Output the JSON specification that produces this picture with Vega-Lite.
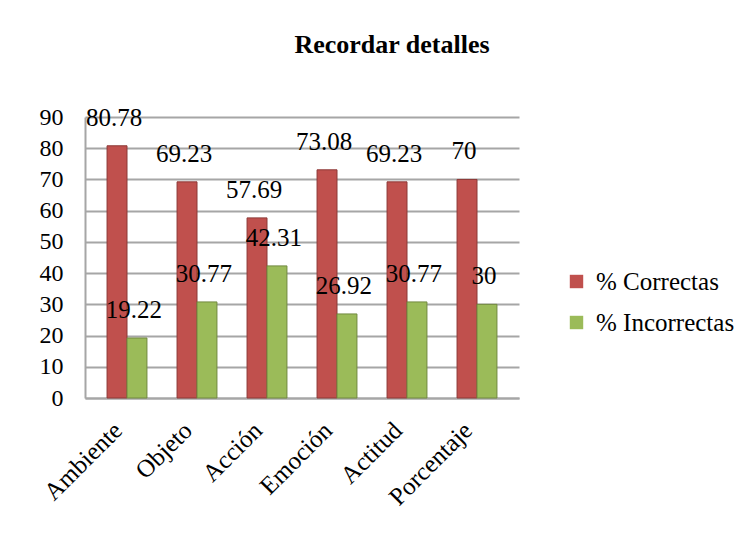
{
  "$schema": "https://vega.github.io/schema/vega-lite/v6.json",
  "autosize": "none",
  "width": 434,
  "height": 281,
  "padding": {"left": 85, "top": 117, "right": 233, "bottom": 135},
  "background": "white",
  "title": {
    "text": "Recordar detalles",
    "font": "Liberation Serif",
    "fontSize": 26,
    "fontWeight": "bold",
    "color": "black",
    "anchor": "middle",
    "frame": "group",
    "dx": 90,
    "offset": 47
  },
  "data": {
    "values": [
      {"categoria": "Ambiente", "serie": "% Correctas", "valor": 80.78},
      {"categoria": "Ambiente", "serie": "% Incorrectas", "valor": 19.22},
      {"categoria": "Objeto", "serie": "% Correctas", "valor": 69.23},
      {"categoria": "Objeto", "serie": "% Incorrectas", "valor": 30.77},
      {"categoria": "Acción", "serie": "% Correctas", "valor": 57.69},
      {"categoria": "Acción", "serie": "% Incorrectas", "valor": 42.31},
      {"categoria": "Emoción", "serie": "% Correctas", "valor": 73.08},
      {"categoria": "Emoción", "serie": "% Incorrectas", "valor": 26.92},
      {"categoria": "Actitud", "serie": "% Correctas", "valor": 69.23},
      {"categoria": "Actitud", "serie": "% Incorrectas", "valor": 30.77},
      {"categoria": "Porcentaje", "serie": "% Correctas", "valor": 70},
      {"categoria": "Porcentaje", "serie": "% Incorrectas", "valor": 30}
    ]
  },
  "encoding": {
    "x": {
      "field": "categoria",
      "type": "nominal",
      "sort": null,
      "scale": {"paddingInner": 0.43, "paddingOuter": 0.315},
      "axis": {
        "title": null,
        "labelAngle": -45,
        "labelAlign": "right",
        "labelBaseline": "middle",
        "labelFont": "Liberation Serif",
        "labelFontSize": 25,
        "labelColor": "black",
        "labelPadding": 28,
        "labelOffset": -9,
        "ticks": false,
        "domainColor": "#a6a6a6",
        "domainWidth": 2
      }
    },
    "xOffset": {"field": "serie", "type": "nominal"},
    "y": {
      "field": "valor",
      "type": "quantitative",
      "scale": {"domain": [0, 90], "nice": false},
      "axis": {
        "title": null,
        "values": [0, 10, 20, 30, 40, 50, 60, 70, 80, 90],
        "labelFont": "Liberation Serif",
        "labelFontSize": 24,
        "labelColor": "black",
        "labelPadding": 22,
        "ticks": false,
        "domainColor": "#a6a6a6",
        "domainWidth": 2,
        "gridColor": "#a6a6a6",
        "gridWidth": 2
      }
    }
  },
  "layer": [
    {
      "mark": {"type": "bar", "strokeWidth": 1},
      "encoding": {
        "color": {
          "field": "serie",
          "type": "nominal",
          "scale": {"domain": ["% Correctas", "% Incorrectas"], "range": ["#C0504D", "#9BBB59"]},
          "legend": {
            "title": null,
            "orient": "none",
            "legendX": 479,
            "legendY": 152,
            "symbolType": "square",
            "symbolSize": 180,
            "symbolStrokeWidth": 0,
            "labelFont": "Liberation Serif",
            "labelFontSize": 25,
            "labelColor": "black",
            "rowPadding": 15,
            "labelOffset": 7
          }
        },
        "stroke": {
          "field": "serie",
          "type": "nominal",
          "scale": {"domain": ["% Correctas", "% Incorrectas"], "range": ["#8C3836", "#71893F"]},
          "legend": null
        }
      }
    },
    {
      "mark": {
        "type": "text",
        "baseline": "bottom",
        "dy": -15,
        "dx": -3,
        "font": "Liberation Serif",
        "fontSize": 25,
        "color": "black"
      },
      "encoding": {
        "text": {"field": "valor", "type": "quantitative"}
      }
    }
  ],
  "config": {
    "view": {"stroke": null}
  }
}
